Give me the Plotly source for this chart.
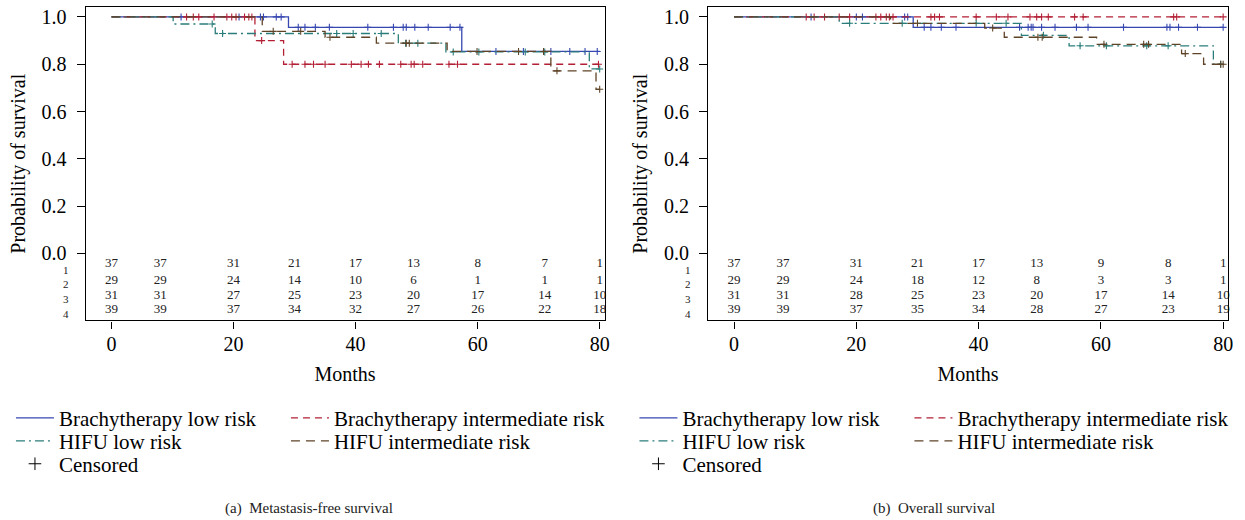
import plotly.graph_objects as go
import numpy as np

W, H = 1245, 520

# ---------------- data: (a) metastasis-free survival ----------------
a_blue_t = [0, 29.0, 57.4, 80]
a_blue_s = [1.0, 0.956, 0.854, 0.854]
a_blue_c = [11.4, 20.9, 24.4, 24.9, 27.0, 27.8, 30.6, 31.7, 33.4, 35.7, 42.0, 46.2,
            47.8, 48.3, 49.7, 51.9, 55.5, 57.1, 63.0, 67.5, 72.0, 75.1, 77.6, 79.6]

a_red_t = [0, 23.5, 28.2, 80]
a_red_s = [1.0, 0.9, 0.8, 0.8]
a_red_c = [12.3, 13.4, 14.3, 16.8, 18.9, 19.7, 20.4, 21.8, 22.5, 23.0, 24.6, 29.6,
           31.7, 33.1, 35.0, 39.3, 40.9, 42.1, 43.9, 47.4, 49.1, 49.6, 51.0, 55.3, 56.7, 79.8]

a_teal_t = [0, 10.1, 17.0, 47.0, 54.8, 78.3, 80]
a_teal_s = [1.0, 0.97, 0.93, 0.889, 0.852, 0.78, 0.78]
a_teal_c = [16.5, 18.2, 36.9, 39.6, 44.2, 48.2, 50.2, 56.0, 60.2, 67.8, 71.0, 80.0]

a_brown_t = [0, 24.7, 35.0, 43.4, 55.0, 72.0, 79.4, 80]
a_brown_s = [1.0, 0.939, 0.914, 0.889, 0.854, 0.772, 0.694, 0.694]
a_brown_c = [26.5, 31.0, 35.8, 48.3, 48.8, 59.9, 66.7, 70.8, 73.0, 80.0]

# ---------------- data: (b) overall survival ----------------
b_blue_t = [0, 29.3, 80]
b_blue_s = [1.0, 0.956, 0.956]
b_blue_c = [12.6, 20.0, 21.0, 27.9, 28.4, 31.1, 32.2, 33.9, 36.3, 46.7, 48.1, 48.6, 48.9,
            50.3, 52.5, 56.0, 57.9, 63.7, 70.8, 71.3, 72.7, 75.8, 80.0]

b_red_t = [0, 80]
b_red_s = [1.0, 1.0]
b_red_c = [11.8, 13.1, 14.8, 17.2, 18.9, 23.2, 24.0, 24.9, 25.4, 26.0, 32.2, 32.8, 33.6,
           39.6, 42.9, 44.8, 48.4, 49.5, 50.3, 51.4, 55.7, 57.1, 71.9, 72.4, 80.0]

b_teal_t = [0, 17.2, 47.0, 54.8, 78.4, 80]
b_teal_s = [1.0, 0.973, 0.922, 0.878, 0.80, 0.80]
b_teal_c = [18.9, 27.5, 39.6, 44.5, 50.6, 56.6, 60.9, 67.5, 71.0, 79.6]

b_brown_t = [0, 25.6, 41.0, 44.2, 59.3, 73.2, 76.8, 80]
b_brown_s = [1.0, 0.973, 0.953, 0.914, 0.884, 0.845, 0.80, 0.80]
b_brown_c = [30.0, 42.3, 49.7, 50.4, 60.5, 67.0, 67.8, 73.8, 79.6, 80.0]

# ---------------- numbers at risk ----------------
risk_times = [0, 8, 20, 30, 40, 49.5, 60, 71, 80]
risk_labels = ["1", "2", "3", "4"]
a_risk_1 = [37, 37, 31, 21, 17, 13, 8, 7, 1]
a_risk_2 = [29, 29, 24, 14, 10, 6, 1, 1, 1]
a_risk_3 = [31, 31, 27, 25, 23, 20, 17, 14, 10]
a_risk_4 = [39, 39, 37, 34, 32, 27, 26, 22, 18]
b_risk_1 = [37, 37, 31, 21, 17, 13, 9, 8, 1]
b_risk_2 = [29, 29, 24, 18, 12, 8, 3, 3, 1]
b_risk_3 = [31, 31, 28, 25, 23, 20, 17, 14, 10]
b_risk_4 = [39, 39, 37, 35, 34, 28, 27, 23, 19]
risk_y = [-0.043, -0.114, -0.180, -0.240]
label_y = [-0.072, -0.130, -0.193, -0.254]

series_names = ["Brachytherapy low risk", "Brachytherapy intermediate risk",
                "HIFU low risk", "HIFU intermediate risk"]
y_ticks = [0.0, 0.2, 0.4, 0.6, 0.8, 1.0]
x_ticks = [0, 20, 40, 60, 80]
captions = ["(a)  Metastasis-free survival", "(b)  Overall survival"]

# ---------------- styles ----------------
FONT = "Liberation Serif"
colors = ["#3647B0", "#B32036", "#2A7D7A", "#5E4327"]
dashes = ["solid", "7px,5px", "9px,4px,2px,4px", "9px,6px"]


def surv_at(t_list, s_list, tc):
    t = np.array(t_list)
    s = np.array(s_list)
    idx = np.searchsorted(t, tc, side="right") - 1
    return s[idx]


fig = go.Figure()

panels = [
    ("x", "y", [(a_blue_t, a_blue_s, a_blue_c), (a_red_t, a_red_s, a_red_c),
                (a_teal_t, a_teal_s, a_teal_c), (a_brown_t, a_brown_s, a_brown_c)],
     [a_risk_1, a_risk_2, a_risk_3, a_risk_4], ("legend", "legend2", "legend3")),
    ("x2", "y2", [(b_blue_t, b_blue_s, b_blue_c), (b_red_t, b_red_s, b_red_c),
                  (b_teal_t, b_teal_s, b_teal_c), (b_brown_t, b_brown_s, b_brown_c)],
     [b_risk_1, b_risk_2, b_risk_3, b_risk_4], ("legend4", "legend5", "legend6")),
]

for xa, ya, groups, risks, legs in panels:
    for i, (t, s, c) in enumerate(groups):
        leg = legs[0] if i < 2 else legs[1]
        fig.add_trace(go.Scatter(
            x=t, y=s, mode="lines", line=dict(color=colors[i], width=1.3, dash=dashes[i], shape="hv"),
            name=series_names[i], xaxis=xa, yaxis=ya, legend=leg, showlegend=True,
            legendwidth=(272 if i % 2 == 1 else 222), hoverinfo="skip"))
        fig.add_trace(go.Scatter(
            x=c, y=surv_at(t, s, c), mode="markers",
            marker=dict(symbol="cross-thin", size=5, color=colors[i],
                        line=dict(color=colors[i], width=1.1)),
            xaxis=xa, yaxis=ya, showlegend=False, hoverinfo="skip"))
    # censored legend entry
    fig.add_trace(go.Scatter(
        x=[None], y=[None], mode="markers", name="Censored",
        marker=dict(symbol="cross-thin", size=9, color="black", line=dict(color="black", width=1)),
        xaxis=xa, yaxis=ya, legend=legs[2], showlegend=True))
    # numbers at risk
    for r, row in enumerate(risks):
        fig.add_trace(go.Scatter(
            x=risk_times, y=[risk_y[r]] * len(risk_times), mode="text",
            text=[str(v) for v in row], textposition="middle center",
            textfont=dict(family=FONT, size=13, color="#222"),
            xaxis=xa, yaxis=ya, showlegend=False, hoverinfo="skip", cliponaxis=False))

xr = [-4.24, 80.8]
yr = [-0.283, 1.042]
axis_common = dict(showgrid=False, zeroline=False, showline=True, mirror=True,
                   linecolor="black", linewidth=1.3, ticks="outside",
                   tickcolor="black", tickfont=dict(family=FONT, size=20, color="black"))

left_dom = [86 / W, 607 / W]
right_dom = [711 / W, 1233 / W]
y_dom = [1 - 320 / H, 1 - 6 / H]

xtitle = dict(text="Months", font=dict(family=FONT, size=20), standoff=13)
ytitle = dict(text="Probability of survival", font=dict(family=FONT, size=20), standoff=10)

fig.update_layout(
    width=W, height=H, margin=dict(l=0, r=0, t=0, b=0),
    paper_bgcolor="white", plot_bgcolor="white",
    font=dict(family=FONT, color="black"),
    xaxis=dict(domain=left_dom, range=xr, tickvals=x_ticks, anchor="y", ticklen=7,
               ticklabelstandoff=-2, title=xtitle, **axis_common),
    yaxis=dict(domain=y_dom, range=yr, tickvals=y_ticks, tickformat=".1f", anchor="x",
               ticklen=8, ticklabelstandoff=6, title=ytitle, **axis_common),
    xaxis2=dict(domain=right_dom, range=xr, tickvals=x_ticks, anchor="y2", ticklen=7,
                ticklabelstandoff=-2, title=xtitle, **axis_common),
    yaxis2=dict(domain=y_dom, range=yr, tickvals=y_ticks, tickformat=".1f", anchor="x2",
                ticklen=8, ticklabelstandoff=6, title=ytitle, **axis_common),
)

leg_common = dict(orientation="h", xanchor="left", yanchor="middle", itemwidth=38,
                  entrywidth=222, entrywidthmode="pixels", bgcolor="rgba(0,0,0,0)",
                  borderwidth=0, font=dict(family=FONT, size=21, color="black"),
                  itemclick=False, itemdoubleclick=False, traceorder="normal")
row_y = [1 - 418 / H, 1 - 441 / H, 1 - 464 / H]
fig.update_layout(
    legend=dict(x=11 / W, y=row_y[0], **leg_common),
    legend2=dict(x=11 / W, y=row_y[1], **leg_common),
    legend3=dict(x=11 / W, y=row_y[2], **leg_common),
    legend4=dict(x=637 / W, y=row_y[0], **leg_common),
    legend5=dict(x=637 / W, y=row_y[1], **leg_common),
    legend6=dict(x=637 / W, y=row_y[2], **leg_common),
)

annotations = []
for xa, x_left in (("x", 86), ("x2", 711)):
    ya = "y" if xa == "x" else "y2"
    for lab, ly in zip(risk_labels, label_y):
        annotations.append(dict(text=lab, x=(x_left - 15) / W, xref="paper", xanchor="right",
                                y=ly, yref=ya, yanchor="middle", showarrow=False,
                                font=dict(family=FONT, size=11, color="#222")))
annotations.append(dict(text=captions[0], x=310 / W, y=1 - 508 / H, xref="paper", yref="paper",
                        xanchor="center", yanchor="middle",
                        showarrow=False, font=dict(family=FONT, size=15, color="#222")))
annotations.append(dict(text=captions[1], x=938 / W, y=1 - 508 / H, xref="paper", yref="paper",
                        xanchor="center", yanchor="middle",
                        showarrow=False, font=dict(family=FONT, size=15, color="#222")))
fig.update_layout(annotations=annotations)

fig.write_html("out.html", config={"displayModeBar": False},
               post_script="document.body.style.margin='0px';")
